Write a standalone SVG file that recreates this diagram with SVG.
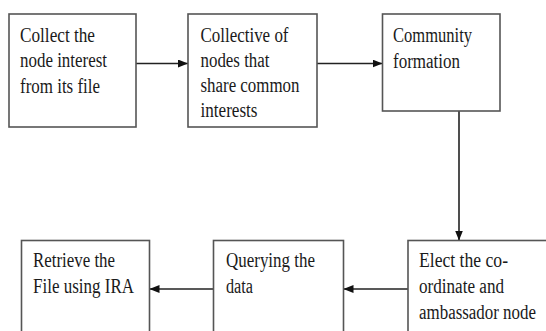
<svg xmlns="http://www.w3.org/2000/svg" width="546" height="331" viewBox="0 0 546 331">
<style>
.box{fill:#fff;stroke:#555;stroke-width:1.6}
.t{font-family:"Liberation Serif","Times New Roman",serif;font-size:20px;fill:#1a1a1a}
.c{stroke:#222;stroke-width:1.6;fill:none;marker-end:url(#ah)}
</style>
<defs>
<marker id="ah" markerWidth="10" markerHeight="8" refX="10" refY="4" orient="auto" markerUnits="userSpaceOnUse">
<path d="M0,0 L10,4 L0,8 Z" fill="#111"/>
</marker>
</defs>
<rect width="546" height="331" fill="#fff"/>
<g id="connectors">
<line class="c" x1="136" y1="63.5" x2="188" y2="63.5"/>
<line class="c" x1="317" y1="63.5" x2="382.5" y2="63.5"/>
<line class="c" x1="459" y1="111" x2="459" y2="240.5"/>
<line class="c" x1="408" y1="289" x2="343.5" y2="289"/>
<line class="c" x1="213" y1="289" x2="149.5" y2="289"/>
</g>
<g id="n1">
<rect class="box" x="9" y="14" width="127" height="113"/>
<text class="t" lengthAdjust="spacingAndGlyphs"><tspan x="20" y="41.5" textLength="75" lengthAdjust="spacingAndGlyphs">Collect the</tspan></text>
<text class="t"><tspan x="20" y="67" textLength="87" lengthAdjust="spacingAndGlyphs">node interest</tspan></text>
<text class="t"><tspan x="20" y="92.5" textLength="80" lengthAdjust="spacingAndGlyphs">from its file</tspan></text>
</g>
<g id="n2">
<rect class="box" x="188" y="14" width="129" height="113"/>
<text class="t"><tspan x="200.5" y="41.5" textLength="88" lengthAdjust="spacingAndGlyphs">Collective of</tspan></text>
<text class="t"><tspan x="200.5" y="67" textLength="69" lengthAdjust="spacingAndGlyphs">nodes that</tspan></text>
<text class="t"><tspan x="200.5" y="92" textLength="99" lengthAdjust="spacingAndGlyphs">share common</tspan></text>
<text class="t"><tspan x="200.5" y="116.5" textLength="57" lengthAdjust="spacingAndGlyphs">interests</tspan></text>
</g>
<g id="n3">
<rect class="box" x="382.5" y="14" width="117.5" height="97"/>
<text class="t"><tspan x="393" y="41.5" textLength="79" lengthAdjust="spacingAndGlyphs">Community</tspan></text>
<text class="t"><tspan x="393" y="67.5" textLength="67" lengthAdjust="spacingAndGlyphs">formation</tspan></text>
</g>
<g id="n4">
<rect class="box" x="408" y="240.5" width="150" height="100"/>
<text class="t"><tspan x="419" y="267" textLength="89" lengthAdjust="spacingAndGlyphs">Elect the co-</tspan></text>
<text class="t"><tspan x="419" y="293" textLength="85" lengthAdjust="spacingAndGlyphs">ordinate and</tspan></text>
<text class="t"><tspan x="419" y="318.5" textLength="117" lengthAdjust="spacingAndGlyphs">ambassador node</tspan></text>
</g>
<g id="n5">
<rect class="box" x="213.5" y="240.5" width="130" height="100"/>
<text class="t"><tspan x="226" y="267" textLength="89" lengthAdjust="spacingAndGlyphs">Querying the</tspan></text>
<text class="t"><tspan x="226" y="293" textLength="27" lengthAdjust="spacingAndGlyphs">data</tspan></text>
</g>
<g id="n6">
<rect class="box" x="21.5" y="240.5" width="128" height="100"/>
<text class="t"><tspan x="33" y="267" textLength="82" lengthAdjust="spacingAndGlyphs">Retrieve the</tspan></text>
<text class="t"><tspan x="33" y="293" textLength="101" lengthAdjust="spacingAndGlyphs">File using IRA</tspan></text>
</g>
</svg>
